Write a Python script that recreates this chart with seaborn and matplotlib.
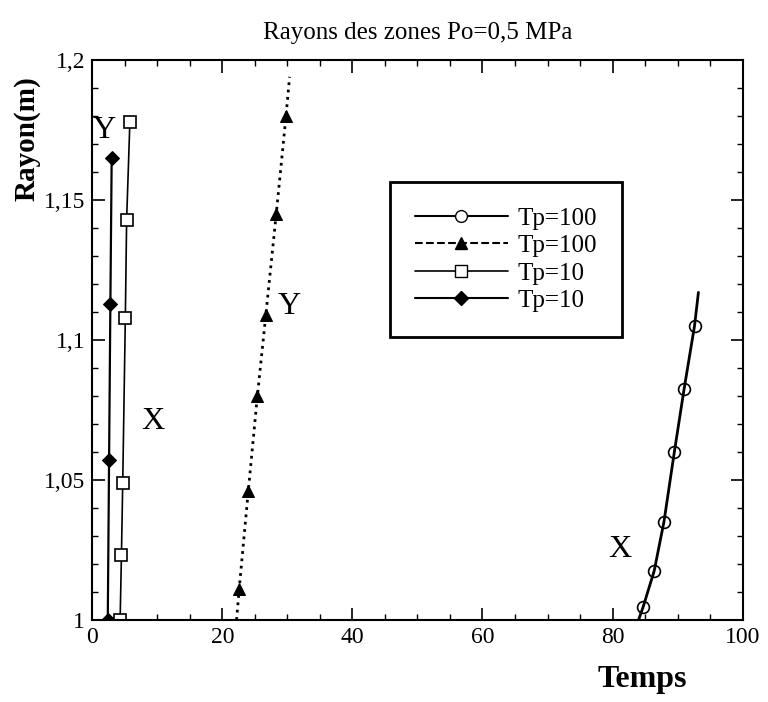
import seaborn as sns
import matplotlib.pyplot as plt
from matplotlib.lines import Line2D
from matplotlib.ticker import MultipleLocator, FuncFormatter

# Tp=100, zone X (open circles, solid line)
t100_x_pts = [84.7, 86.4, 87.9, 89.5, 91.0, 92.6]
t100_x_r = [1.0046, 1.0175, 1.035, 1.060, 1.0825, 1.105]
t100_x_line_t = [84.0, 84.7, 86.4, 87.9, 89.5, 91.0, 92.6, 93.2]
t100_x_line_r = [1.0, 1.0046, 1.0175, 1.035, 1.060, 1.0825, 1.105, 1.117]

# Tp=100, zone Y (filled triangles, dotted line)
t100_y_pts = [22.6, 24.0, 25.4, 26.7, 28.3, 29.8]
t100_y_r = [1.011, 1.046, 1.080, 1.109, 1.145, 1.180]
t100_y_line_t = [22.2, 22.6, 24.0, 25.4, 26.7, 28.3, 29.8, 30.35]
t100_y_line_r = [1.0, 1.011, 1.046, 1.080, 1.109, 1.145, 1.180, 1.194]

# Tp=10, zone X (open squares)
t10_x_pts = [4.3, 4.5, 4.7, 5.1, 5.3, 5.8]
t10_x_r = [1.0, 1.023, 1.049, 1.108, 1.143, 1.178]

# Tp=10, zone Y (filled diamonds)
t10_y_pts = [2.4, 2.6, 2.8, 3.0]
t10_y_r = [1.0, 1.057, 1.113, 1.165]

labels = ["Tp=100", "Tp=100", "Tp=10", "Tp=10"]

sns.set_theme(style="ticks")
plt.rcParams['font.family'] = ['Liberation Serif', 'DejaVu Serif']
plt.rcParams['text.color'] = 'black'
plt.rcParams['axes.labelcolor'] = 'black'
plt.rcParams['xtick.color'] = 'black'
plt.rcParams['ytick.color'] = 'black'

fig, ax = plt.subplots(figsize=(7.68, 7.02), dpi=100)
fig.subplots_adjust(left=0.120, right=0.967, bottom=0.117, top=0.9145)

sns.lineplot(x=t100_x_line_t, y=t100_x_line_r, ax=ax, sort=False, estimator=None,
             color='black', linewidth=2)
sns.lineplot(x=t100_x_pts, y=t100_x_r, ax=ax, sort=False, estimator=None,
             color='black', linewidth=0, marker='o', markersize=8.5,
             markerfacecolor='none', markeredgecolor='black', markeredgewidth=1.2)

sns.lineplot(x=t100_y_line_t, y=t100_y_line_r, ax=ax, sort=False, estimator=None,
             color='black', linewidth=2, linestyle=':')
sns.lineplot(x=t100_y_pts, y=t100_y_r, ax=ax, sort=False, estimator=None,
             color='black', linewidth=0, marker='^', markersize=8.5,
             markerfacecolor='black', markeredgecolor='black')

sns.lineplot(x=t10_x_pts, y=t10_x_r, ax=ax, sort=False, estimator=None,
             color='black', linewidth=1.2, marker='s', markersize=8,
             markerfacecolor='white', markeredgecolor='black', markeredgewidth=1.2)

sns.lineplot(x=t10_y_pts, y=t10_y_r, ax=ax, sort=False, estimator=None,
             color='black', linewidth=1.6, marker='D', markersize=7,
             markerfacecolor='black', markeredgecolor='black')

ax.set_xlim(0, 100)
ax.set_ylim(1.0, 1.2)
ax.xaxis.set_major_locator(MultipleLocator(20))
ax.xaxis.set_minor_locator(MultipleLocator(5))
ax.yaxis.set_major_locator(MultipleLocator(0.05))
ax.yaxis.set_minor_locator(MultipleLocator(0.01))
ax.yaxis.set_major_formatter(FuncFormatter(lambda v, p: ('%g' % round(v, 3)).replace('.', ',')))
ax.tick_params(which='both', direction='in', top=True, right=True, labelsize=17)
ax.tick_params(which='major', length=9, width=1.2, pad=5)
ax.tick_params(which='minor', length=4.5, width=1.0)
for sp in ax.spines.values():
    sp.set_linewidth(1.5)
    sp.set_color('black')

ax.set_title("Rayons des zones Po=0,5 MPa", fontsize=18, pad=15)
ax.set_xlabel("Temps", fontsize=23, fontweight='bold')
ax.set_ylabel("Rayon(m)", fontsize=21, fontweight='bold')
ax.xaxis.set_label_coords(0.845, -0.08)
ax.yaxis.set_label_coords(-0.08, 0.86)

# zone labels
ax.text(1.9, 1.175, "Y", fontsize=23, ha='center', va='center')
ax.text(9.3, 1.071, "X", fontsize=23, ha='center', va='center')
ax.text(30.3, 1.112, "Y", fontsize=23, ha='center', va='center')
ax.text(81.1, 1.025, "X", fontsize=23, ha='center', va='center')

handles = [
    Line2D([], [], color='black', linewidth=1.5, marker='o', markersize=8.5,
           markerfacecolor='white', markeredgecolor='black'),
    Line2D([], [], color='black', linewidth=1.5, linestyle='--', marker='^', markersize=8.5,
           markerfacecolor='black'),
    Line2D([], [], color='black', linewidth=1.2, marker='s', markersize=8,
           markerfacecolor='white', markeredgecolor='black'),
    Line2D([], [], color='black', linewidth=1.5, marker='D', markersize=7,
           markerfacecolor='black'),
]
leg = ax.legend(handles=handles, labels=labels, loc='upper left',
                bbox_to_anchor=(0.458, 0.782), borderaxespad=0, fontsize=18,
                handlelength=3.7, frameon=True, fancybox=False, framealpha=1,
                borderpad=1.0, labelspacing=0.2, handletextpad=0.4)
leg.get_frame().set_edgecolor('black')
leg.get_frame().set_linewidth(2)

fig.savefig("out.png", dpi=100)
